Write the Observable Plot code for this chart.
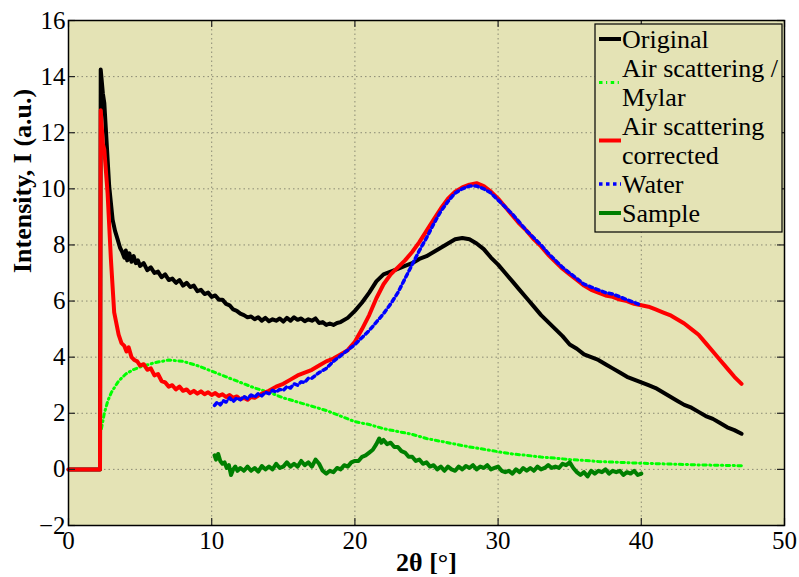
<!DOCTYPE html>
<html><head><meta charset="utf-8">
<script src="https://cdn.jsdelivr.net/npm/d3@7"></script>
<script src="https://cdn.jsdelivr.net/npm/@observablehq/plot@0.6"></script>
<style>body{margin:0;background:#fff;} #chart{width:799px;height:577px;} svg text{font-family:"Liberation Serif","Times New Roman",serif;}</style>
</head><body><div id="chart"></div>
<script>
const xTicks = [0, 10, 20, 30, 40, 50];
const yTicks = [-2, 0, 2, 4, 6, 8, 10, 12, 14, 16];
const seriesNames = ["Original", "Air scattering /\nMylar", "Air scattering\ncorrected", "Water", "Sample"];

const original = [[0,0],[2.2,0],[2.25,14.25],[2.4,13.4],[2.5,13.06],[2.6,12.2],[2.84,10.1],[3.08,8.9],[3.25,8.5],[3.43,8.2],[3.6,7.9],[3.75,7.75],[3.9,7.55],[4.0,7.8],[4.1,7.45],[4.25,7.7],[4.4,7.4],[4.55,7.6],[4.7,7.35],[4.85,7.45],[5.0,7.25],[5.25,7.35],[5.5,7.1],[5.75,7.2],[6.0,7.0],[6.25,7.05],[6.5,6.85],[6.75,6.95],[7.0,6.75],[7.25,6.8],[7.5,6.65],[7.75,6.75],[8.0,6.55],[8.25,6.65],[8.5,6.5],[8.75,6.55],[9.0,6.35],[9.25,6.4],[9.5,6.25],[9.75,6.3],[10.0,6.15],[10.25,6.2],[10.5,6.05],[10.75,6.05],[11.0,5.9],[11.25,5.85],[11.5,5.7],[11.75,5.65],[12.0,5.55],[12.25,5.5],[12.5,5.42],[12.75,5.45],[13.0,5.35],[13.25,5.42],[13.5,5.3],[13.75,5.4],[14.0,5.28],[14.25,5.35],[14.5,5.3],[14.75,5.38],[15.0,5.27],[15.25,5.4],[15.5,5.3],[15.75,5.42],[16.0,5.33],[16.25,5.38],[16.5,5.28],[16.75,5.35],[17.0,5.3],[17.25,5.38],[17.5,5.22],[17.75,5.25],[18.0,5.15],[18.25,5.2],[18.5,5.15],[18.75,5.22],[19.0,5.25],[19.5,5.4],[20.0,5.65],[20.5,5.95],[21.0,6.3],[21.5,6.7],[22.0,6.95],[22.5,7.05],[23.0,7.15],[23.5,7.25],[24.0,7.35],[24.5,7.5],[25.0,7.6],[25.5,7.75],[26.0,7.9],[26.5,8.05],[27.0,8.2],[27.5,8.25],[28.0,8.2],[28.5,8.05],[29.0,7.85],[29.5,7.55],[30.0,7.3],[30.5,7.0],[31.0,6.7],[31.5,6.4],[32.0,6.1],[32.5,5.8],[33.0,5.5],[33.5,5.25],[34.0,5.0],[34.5,4.75],[35.0,4.45],[35.5,4.3],[36.0,4.1],[36.5,4.0],[37.0,3.9],[37.5,3.75],[38.0,3.6],[38.5,3.45],[39.0,3.3],[39.5,3.2],[40.0,3.1],[40.5,3.0],[41.0,2.9],[41.5,2.75],[42.0,2.6],[42.5,2.45],[43.0,2.3],[43.5,2.2],[44.0,2.05],[44.5,1.9],[45.0,1.8],[45.5,1.65],[46.0,1.5],[46.5,1.4],[47.0,1.27]];

const mylar = [[2.3,1.45],[2.5,2.0],[2.75,2.45],[3.0,2.75],[3.5,3.15],[4.0,3.4],[4.5,3.55],[5.0,3.65],[6.0,3.8],[7.0,3.9],[8.0,3.85],[9.0,3.7],[10.0,3.5],[11.0,3.3],[12.0,3.1],[13.0,2.9],[14.0,2.75],[15.0,2.55],[16.0,2.4],[17.0,2.25],[18.0,2.1],[19.0,1.9],[20.0,1.7],[21.0,1.6],[22.0,1.45],[23.0,1.35],[24.0,1.25],[25.0,1.1],[26.0,1.0],[27.0,0.9],[28.0,0.8],[29.0,0.72],[30.0,0.63],[31.0,0.55],[32.0,0.5],[33.0,0.44],[34.0,0.4],[35.0,0.35],[36.0,0.32],[37.0,0.28],[38.0,0.26],[39.0,0.24],[40.0,0.22],[42.0,0.19],[44.0,0.16],[46.0,0.14],[47.0,0.13]];

const corrected = [[0,0],[2.2,0],[2.25,12.8],[2.4,11.6],[2.5,11.4],[2.73,9.85],[2.96,7.5],[3.19,5.6],[3.5,4.8],[3.7,4.5],[3.9,4.4],[4.05,4.2],[4.2,4.35],[4.4,4.0],[4.6,3.9],[4.8,3.85],[5.0,3.7],[5.25,3.75],[5.5,3.55],[5.75,3.6],[6.0,3.35],[6.25,3.4],[6.5,3.15],[6.75,3.1],[7.0,2.95],[7.25,3.0],[7.5,2.85],[7.75,2.95],[8.0,2.8],[8.25,2.85],[8.5,2.72],[8.75,2.8],[9.0,2.7],[9.25,2.78],[9.5,2.68],[9.75,2.75],[10.0,2.65],[10.25,2.72],[10.5,2.62],[10.75,2.68],[11.0,2.58],[11.25,2.65],[11.5,2.55],[11.75,2.6],[12.0,2.5],[12.25,2.55],[12.5,2.48],[12.75,2.58],[13.0,2.55],[13.5,2.7],[14.0,2.8],[14.5,2.95],[15.0,3.05],[15.5,3.2],[16.0,3.35],[16.5,3.45],[17.0,3.55],[17.5,3.7],[18.0,3.85],[18.5,3.95],[19.0,4.1],[19.5,4.25],[20.0,4.55],[20.5,5.0],[21.0,5.5],[21.5,6.1],[22.0,6.6],[22.5,6.95],[23.0,7.2],[23.5,7.45],[24.0,7.75],[24.5,8.1],[25.0,8.5],[25.5,8.9],[26.0,9.3],[26.5,9.65],[27.0,9.9],[27.5,10.05],[28.0,10.15],[28.5,10.2],[29.0,10.1],[29.5,9.9],[30.0,9.65],[30.5,9.35],[31.0,9.05],[31.5,8.75],[32.0,8.5],[32.5,8.2],[33.0,7.95],[33.5,7.65],[34.0,7.4],[34.5,7.15],[35.0,6.95],[35.5,6.75],[36.0,6.55],[36.5,6.4],[37.0,6.3],[37.5,6.2],[38.0,6.15],[38.5,6.05],[39.0,6.0],[39.5,5.9],[40.0,5.85],[40.5,5.8],[41.0,5.7],[41.5,5.6],[42.0,5.5],[42.5,5.35],[43.0,5.2],[43.5,5.0],[44.0,4.8],[44.5,4.5],[45.0,4.2],[45.5,3.9],[46.0,3.6],[46.5,3.3],[47.0,3.05]];

const water = [[10.2,2.28],[10.4,2.4],[10.6,2.3],[10.8,2.45],[11.0,2.4],[11.25,2.55],[11.5,2.42],[11.75,2.55],[12.0,2.48],[12.25,2.6],[12.5,2.52],[12.75,2.65],[13.0,2.58],[13.25,2.7],[13.5,2.62],[13.75,2.75],[14.0,2.7],[14.25,2.82],[14.5,2.75],[14.75,2.85],[15.0,2.82],[15.25,2.95],[15.5,2.9],[15.75,3.05],[16.0,3.0],[16.25,3.12],[16.5,3.1],[16.75,3.25],[17.0,3.25],[17.5,3.45],[18.0,3.6],[18.5,3.85],[19.0,4.05],[19.5,4.25],[20.0,4.45],[20.5,4.7],[21.0,4.95],[21.5,5.25],[22.0,5.55],[22.5,5.9],[23.0,6.3],[23.5,6.8],[24.0,7.3],[24.5,7.8],[25.0,8.25],[25.5,8.75],[26.0,9.2],[26.5,9.55],[27.0,9.85],[27.5,10.0],[28.0,10.1],[28.5,10.1],[29.0,10.0],[29.5,9.85],[30.0,9.6],[30.5,9.35],[31.0,9.1],[31.5,8.8],[32.0,8.5],[32.5,8.25],[33.0,8.0],[33.5,7.7],[34.0,7.45],[34.5,7.2],[35.0,7.0],[35.5,6.8],[36.0,6.6],[36.5,6.5],[37.0,6.4],[37.5,6.3],[38.0,6.25],[38.5,6.15],[39.0,6.05],[39.5,5.95],[40.0,5.85]];

const sample = [[10.2,0.5],[10.3,0.35],[10.45,0.55],[10.6,0.3],[10.75,0.2],[10.9,0.25],[11.05,0.05],[11.2,0.15],[11.35,-0.2],[11.5,0.0],[11.65,0.1],[11.8,-0.05],[12.0,0.05],[12.25,-0.05],[12.5,0.1],[12.75,-0.05],[13.0,0.05],[13.25,-0.08],[13.5,0.12],[13.75,0.0],[14.0,0.1],[14.25,0.0],[14.5,0.2],[14.75,0.05],[15.0,0.1],[15.25,0.25],[15.5,0.1],[15.75,0.2],[16.0,0.1],[16.25,0.3],[16.5,0.15],[16.75,0.25],[17.0,0.1],[17.25,0.35],[17.5,0.2],[17.75,-0.05],[18.0,-0.15],[18.25,-0.05],[18.5,-0.1],[18.75,0.05],[19.0,0.0],[19.25,0.15],[19.5,0.1],[19.75,0.25],[20.0,0.3],[20.25,0.3],[20.5,0.45],[20.75,0.5],[21.0,0.6],[21.25,0.7],[21.5,0.9],[21.7,1.1],[21.85,0.95],[22.0,1.05],[22.25,0.9],[22.5,0.95],[22.75,0.8],[23.0,0.8],[23.25,0.65],[23.5,0.6],[23.75,0.45],[24.0,0.45],[24.25,0.3],[24.5,0.35],[24.75,0.2],[25.0,0.25],[25.25,0.1],[25.5,0.15],[25.75,0.0],[26.0,0.1],[26.25,-0.05],[26.5,0.1],[26.75,0.0],[27.0,-0.05],[27.25,0.1],[27.5,0.0],[27.75,0.12],[28.0,0.05],[28.25,0.15],[28.5,0.0],[28.75,0.1],[29.0,0.05],[29.25,0.15],[29.5,0.0],[29.75,0.05],[30.0,0.1],[30.25,-0.05],[30.5,-0.1],[30.75,-0.05],[31.0,-0.15],[31.25,0.0],[31.5,-0.1],[31.75,0.05],[32.0,-0.05],[32.25,0.05],[32.5,-0.05],[32.75,0.1],[33.0,0.0],[33.25,0.05],[33.5,0.15],[33.75,0.05],[34.0,0.1],[34.25,0.05],[34.5,0.2],[34.75,0.15],[35.0,0.25],[35.25,0.05],[35.5,-0.1],[35.75,-0.2],[36.0,-0.1],[36.25,-0.25],[36.5,-0.05],[36.75,-0.15],[37.0,-0.05],[37.25,-0.1],[37.5,0.0],[37.75,-0.15],[38.0,-0.05],[38.25,-0.1],[38.5,-0.05],[38.75,-0.2],[39.0,-0.1],[39.25,-0.15],[39.5,-0.05],[39.75,-0.2],[40.0,-0.15]];

const W = 799, H = 577, mL = 68, mR = 15, mT = 20, mB = 52;
const innerW = W - mL - mR, innerH = H - mT - mB;
const bg = "#e4e3b5";
const font = "Liberation Serif";

const styles = [
  {stroke: "#000000", strokeWidth: 4},
  {stroke: "#00ff00", strokeWidth: 3, strokeDasharray: "3.5,3.5,1.2,3.5"},
  {stroke: "#ff0000", strokeWidth: 4},
  {stroke: "#0000ff", strokeWidth: 3.5, strokeDasharray: "3.5,3.5"},
  {stroke: "#007f00", strokeWidth: 4}
];
const datasets = [original, mylar, corrected, water, sample];

const plot = Plot.plot({
  width: W, height: H,
  marginLeft: mL, marginRight: mR, marginTop: mT, marginBottom: mB,
  style: {fontFamily: font, fontSize: "25px", background: "white", color: "black", overflow: "visible"},
  x: {domain: [0, 50]},
  y: {domain: [-2, 16]},
  marks: [
    Plot.frame({fill: bg}),
    Plot.gridX(xTicks, {stroke: "#8a8a74", strokeOpacity: 1, strokeDasharray: "1.5,3"}),
    Plot.gridY(yTicks, {stroke: "#8a8a74", strokeOpacity: 1, strokeDasharray: "1.5,3"}),
    ...datasets.map((d, i) => Plot.line(d, {x: p => p[0], y: p => p[1], ...styles[i], strokeLinejoin: "round"})),
    Plot.tickX(xTicks, {x: d => d, insetTop: innerH - 7, stroke: "#222", strokeWidth: 1.2}),
    Plot.tickX(xTicks, {x: d => d, insetBottom: innerH - 7, stroke: "#222", strokeWidth: 1.2}),
    Plot.tickY(yTicks, {y: d => d, insetRight: innerW - 7, stroke: "#222", strokeWidth: 1.2}),
    Plot.tickY(yTicks, {y: d => d, insetLeft: innerW - 7, stroke: "#222", strokeWidth: 1.2}),
    Plot.axisX(xTicks, {tickSize: 0, tickPadding: 6, label: null, fontSize: 25, fontFamily: font}),
    Plot.axisY(yTicks, {tickSize: 0, tickPadding: 3, label: null, fontSize: 25, fontFamily: font}),
    Plot.frame({stroke: "black", strokeWidth: 1.5}),
    Plot.text(["2θ [°]"], {frameAnchor: "bottom", dy: 37, fontWeight: "bold", fontSize: 26, lineAnchor: "middle", fontFamily: font}),
    Plot.text(["Intensity, I (a.u.)"], {frameAnchor: "left", dx: -46, rotate: -90, fontWeight: "bold", fontSize: 26, lineAnchor: "middle", fontFamily: font})
  ]
});
document.getElementById("chart").appendChild(plot);

// Legend
const svg = d3.select(plot);
const lg = svg.append("g").attr("font-family", font).attr("font-size", 26).attr("text-anchor", "start");
lg.append("rect").attr("x", 595).attr("y", 24).attr("width", 187).attr("height", 208)
  .attr("fill", bg).attr("stroke", "black").attr("stroke-width", 1.2);
const rowH = 29;
let row = 0;
seriesNames.forEach((name, i) => {
  const lines = name.split("\n");
  const firstBase = 48 + row * rowH;
  const lineY = firstBase - 9 + (lines.length - 1) * rowH / 2;
  const s = styles[i];
  lg.append("line").attr("x1", 599).attr("x2", 621).attr("y1", lineY).attr("y2", lineY)
    .attr("stroke", s.stroke).attr("stroke-width", s.strokeWidth)
    .attr("stroke-dasharray", s.strokeDasharray || null);
  lines.forEach((t, j) => {
    lg.append("text").attr("x", 622).attr("y", firstBase + j * rowH)
      .attr("fill", "black").attr("text-anchor", "start").text(t);
  });
  row += lines.length;
});
</script>
</body></html>
